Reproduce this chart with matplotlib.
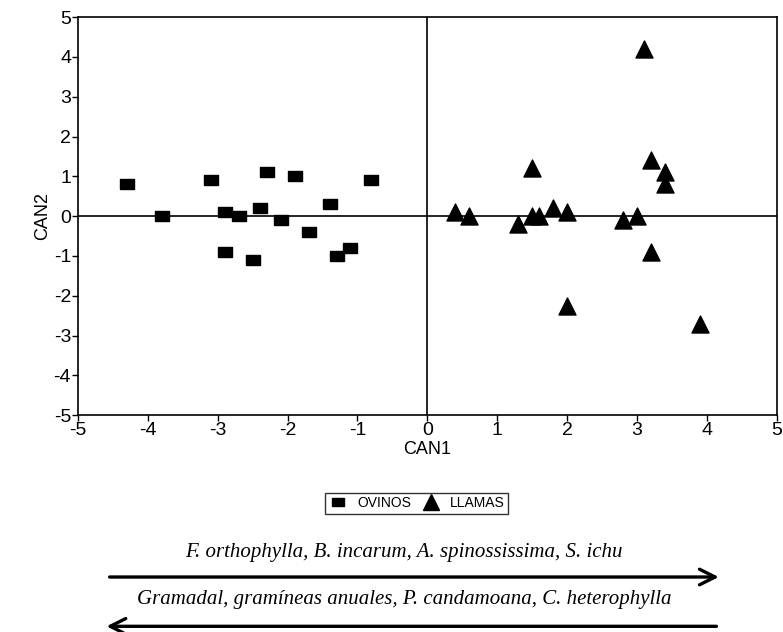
import numpy as np
import matplotlib.pyplot as plt
from matplotlib.lines import Line2D

# Canonical scores
ovinos_can1 = [-4.3, -3.8, -3.1, -2.9, -2.7, -2.4, -2.3, -2.1, -1.9, -1.7, -1.4, -0.8,
               -2.9, -2.5, -1.3, -1.1]
ovinos_can2 = [0.8, 0.0, 0.9, 0.1, 0.0, 0.2, 1.1, -0.1, 1.0, -0.4, 0.3, 0.9,
               -0.9, -1.1, -1.0, -0.8]

llamas_can1 = [3.1, 1.5, 3.2, 3.4, 3.4, 0.4, 0.6, 1.3, 1.5, 1.6, 1.8, 2.0, 2.8, 3.0,
               3.2, 2.0, 3.9]
llamas_can2 = [4.2, 1.2, 1.4, 1.1, 0.8, 0.1, 0.0, -0.2, 0.0, 0.0, 0.2, 0.1, -0.1, 0.0,
               -0.9, -2.25, -2.7]

ticks = [-5, -4, -3, -2, -1, 0, 1, 2, 3, 4, 5]
species_right = "F. orthophylla, B. incarum, A. spinossissima, S. ichu"
species_left = "Gramadal, gramíneas anuales, P. candamoana, C. heterophylla"

plt.rcParams['font.family'] = ['Liberation Sans', 'DejaVu Sans']
plt.rcParams['axes.unicode_minus'] = False

# slightly flat square, like the original print
rect = [(-1, -0.68), (1, -0.68), (1, 0.68), (-1, 0.68), (-1, -0.68)]

fig = plt.figure(figsize=(7.83, 6.32), dpi=100)
ax = fig.add_axes([0.0996, 0.343, 0.8924, 0.630])

ax.axhline(0, color='black', lw=1.2, zorder=1)
ax.axvline(0, color='black', lw=1.2, zorder=1)
ax.scatter(ovinos_can1, ovinos_can2, marker=rect, s=110, color='black', zorder=3)
ax.scatter(llamas_can1, llamas_can2, marker='^', s=150, color='black', zorder=3)

ax.set_xlim(-5, 5)
ax.set_ylim(-5, 5)
ax.set_xticks(ticks)
ax.set_yticks(ticks)
ax.tick_params(direction='out', length=4, width=1, labelsize=14, pad=1)
for s in ax.spines.values():
    s.set_linewidth(1.2)
ax.set_xlabel('CAN1', fontsize=13, labelpad=1)
ax.set_ylabel('CAN2', fontsize=13, labelpad=2)

handles = [Line2D([], [], marker=rect, color='black', ls='none', markersize=9),
           Line2D([], [], marker='^', color='black', ls='none', markersize=11)]
leg = fig.legend(handles, ['OVINOS', 'LLAMAS'], loc='center', bbox_to_anchor=(0.532, 0.204),
                 ncol=2, fontsize=10, frameon=True, fancybox=False, edgecolor='black',
                 handletextpad=0.7, columnspacing=0.7, borderpad=0.25, handlelength=1.4,
                 borderaxespad=0)
leg.get_frame().set_linewidth(1.0)

fig.text(0.516, 0.125, species_right, ha='center', va='center', fontsize=15,
         style='italic', family=['Liberation Serif', 'DejaVu Serif'])
fig.text(0.516, 0.051, species_left, ha='center', va='center', fontsize=15,
         style='italic', family=['Liberation Serif', 'DejaVu Serif'])
fig.add_artist(plt.Annotation('', xy=(0.918, 0.087), xytext=(0.140, 0.087),
                              xycoords='figure fraction',
                              arrowprops=dict(arrowstyle='->', lw=2.4, color='black',
                                              mutation_scale=28, shrinkA=0, shrinkB=0)))
fig.add_artist(plt.Annotation('', xy=(0.136, 0.009), xytext=(0.915, 0.009),
                              xycoords='figure fraction',
                              arrowprops=dict(arrowstyle='->', lw=2.4, color='black',
                                              mutation_scale=28, shrinkA=0, shrinkB=0)))

fig.savefig('out.png', dpi=100)
